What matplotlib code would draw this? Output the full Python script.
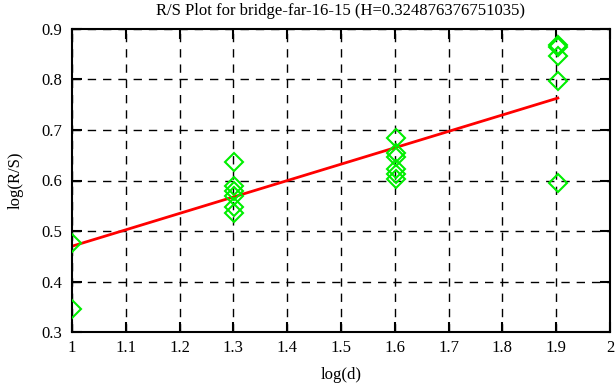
import numpy as np
import matplotlib
matplotlib.use("Agg")
import matplotlib.pyplot as plt

plt.rcParams['font.family'] = ['Liberation Serif', 'DejaVu Serif']

# --- data ---
log_d = [1.0, 1.0,
         1.30103, 1.30103, 1.30103, 1.30103, 1.30103, 1.30103,
         1.60206, 1.60206, 1.60206, 1.60206, 1.60206, 1.60206,
         1.90309, 1.90309, 1.90309, 1.90309, 1.90309]
log_rs = [0.477, 0.345,
          0.637, 0.589, 0.580, 0.570, 0.547, 0.536,
          0.684, 0.655, 0.646, 0.622, 0.612, 0.602,
          0.868, 0.864, 0.847, 0.797, 0.595]
H = 0.324876376751035
intercept = 0.145
fit_x = [1.0, 1.90309]

fig = plt.figure(figsize=(6.16, 3.87), dpi=100)
ax = fig.add_axes([72 / 616, 1 - 332 / 387, (610 - 72) / 616, (332 - 29) / 387])

ax.plot(log_d, log_rs, linestyle='none', marker='D', markersize=9.5,
        markerfacecolor='none', markeredgecolor='#00ee00', markeredgewidth=1.5,
        zorder=3)
fx = np.array(fit_x)
ax.plot(fx, intercept + H * fx, color='#ff0000', linewidth=2, zorder=2)

ax.set_xlim(1, 2)
ax.set_ylim(0.3, 0.9)
ax.set_xticks(np.arange(1, 2.01, 0.1))
ax.set_xticklabels(['1', '1.1', '1.2', '1.3', '1.4', '1.5', '1.6', '1.7', '1.8', '1.9', '2'])
ax.set_yticks(np.arange(0.3, 0.91, 0.1))
ax.set_yticklabels(['0.3', '0.4', '0.5', '0.6', '0.7', '0.8', '0.9'])
ax.grid(True, color='black', linestyle=(0, (6, 5)), linewidth=1)
ax.tick_params(direction='in', length=7, width=1.5, top=True, right=True,
               labelsize=12, colors='black')
ax.tick_params(axis='x', pad=6)
ax.tick_params(axis='y', pad=7)
for s in ax.spines.values():
    s.set_linewidth(1.5)

ax.set_xlabel("log(d)", fontsize=12, labelpad=8)
ax.set_ylabel("log(R/S)", fontsize=12, labelpad=13)
ax.set_title("R/S Plot for bridge-far-16-15 (H=0.324876376751035)", fontsize=12, pad=10)

fig.savefig("out.png", dpi=100)
